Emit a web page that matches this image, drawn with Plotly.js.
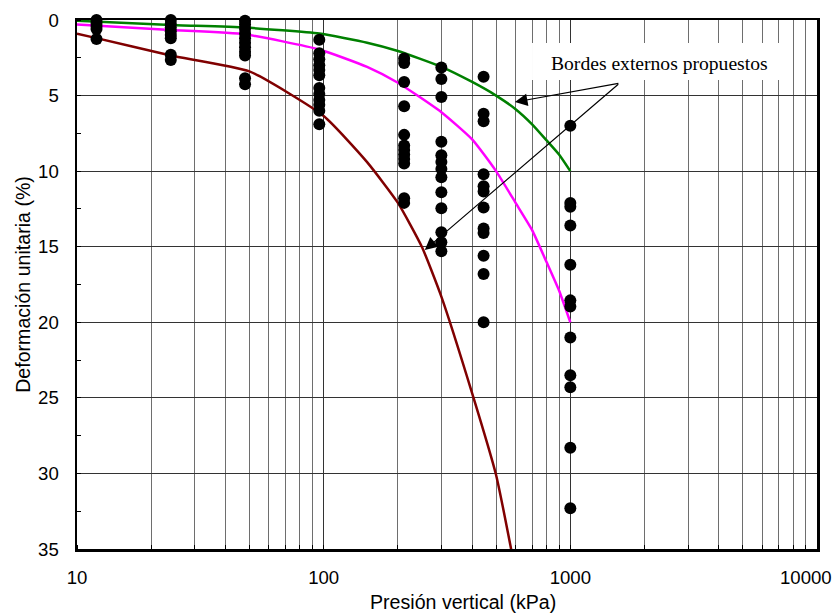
<!DOCTYPE html>
<html>
<head>
<meta charset="utf-8">
<script src="https://cdn.plot.ly/plotly-3.0.1.min.js"></script>
<style>
  html, body { margin: 0; padding: 0; background: #ffffff; }
  #chart { width: 838px; height: 614px; }
</style>
</head>
<body>
<div id="chart"></div>
<script>
// Pressure steps (kPa) at which strain was measured
const pressures = [12, 24, 48, 96, 212, 300, 445, 1000];

// Measured strain (%) at each pressure step
const strainsAt12   = [0.0, 0.2, 0.4, 0.6, 1.25];
const strainsAt24   = [0.0, 0.25, 0.5, 0.75, 1.0, 1.2, 2.3, 2.65];
const strainsAt48   = [0.05, 0.3, 0.6, 0.9, 1.2, 1.5, 1.8, 2.1, 2.35, 3.85, 4.25];
const strainsAt96   = [1.3, 2.2, 2.6, 3.0, 3.3, 3.65, 4.5, 4.9, 5.3, 5.6, 6.0, 6.9];
const strainsAt212  = [2.55, 2.85, 4.1, 5.7, 7.6, 8.3, 8.6, 8.9, 9.2, 9.5, 11.8, 12.1];
const strainsAt300  = [3.15, 3.9, 5.1, 8.05, 8.95, 9.4, 9.85, 10.4, 11.4, 12.45, 14.05, 14.7, 15.3];
const strainsAt445  = [3.75, 6.2, 6.7, 10.2, 11.0, 11.35, 12.4, 13.8, 14.1, 15.6, 16.8, 20.0];
const strainsAt1000 = [7.0, 12.1, 12.35, 13.6, 16.2, 18.55, 18.95, 21.0, 23.5, 24.3, 28.3, 32.3];
const strainColumns = [strainsAt12, strainsAt24, strainsAt48, strainsAt96,
                       strainsAt212, strainsAt300, strainsAt445, strainsAt1000];

// Proposed outer bound (stiff side)
const upperPressure = [10, 24, 48, 96, 150, 200, 300, 400, 500, 600, 700, 800, 900, 1000];
const upperStrain   = [0.05, 0.33, 0.5, 0.9, 1.5, 2.05, 3.1, 4.1, 5.0, 5.9, 6.9, 7.95, 8.9, 10.0];

// Intermediate curve
const middlePressure = [10, 24, 48, 96, 150, 200, 300, 400, 500, 600, 700, 800, 900, 1000];
const middleStrain   = [0.3, 0.66, 0.95, 1.95, 3.1, 4.15, 6.1, 7.9, 10.0, 12.1, 13.9, 16.0, 17.9, 20.0];

// Proposed outer bound (soft side)
const lowerPressure = [10, 12, 24, 50, 100, 150, 200, 250, 300, 400, 500, 580];
const lowerStrain   = [0.9, 1.2, 2.35, 3.4, 6.35, 9.4, 12.1, 15.0, 18.3, 24.7, 30.1, 35.3];

// Axis ticks
const xTickVals = [10, 100, 1000, 10000];
const xTickText = ['10', '100', '1000', '10000'];
const yTickVals = [0, 5, 10, 15, 20, 25, 30, 35];
const yTickText = ['0', '5', '10', '15', '20', '25', '30', '35'];

// Labels
const xTitle = 'Presión vertical (kPa)';
const yTitle = 'Deformación unitaria (%)';
const boundsLabel = 'Bordes externos propuestos';

// Flatten the measurement columns into point lists
const pointX = [];
const pointY = [];
strainColumns.forEach((col, i) => {
  col.forEach(v => { pointX.push(pressures[i]); pointY.push(v); });
});

// The last x label sits on the right edge; it is drawn separately, nudged inward
const lastTick = xTickText.length - 1;
const xTickTextShown = xTickText.map((t, i) => (i === lastTick ? '' : t));

const sans = 'Liberation Sans, Arial, sans-serif';
const serif = 'Liberation Serif, Times New Roman, serif';

const curveLine = (color) => ({ color: color, width: 2.5, shape: 'spline', smoothing: 0.5 });

const traces = [
  {
    x: upperPressure, y: upperStrain, type: 'scatter', mode: 'lines',
    line: curveLine('#008000'), hoverinfo: 'skip'
  },
  {
    x: middlePressure, y: middleStrain, type: 'scatter', mode: 'lines',
    line: curveLine('#ff00ff'), hoverinfo: 'skip'
  },
  {
    x: lowerPressure, y: lowerStrain, type: 'scatter', mode: 'lines',
    line: curveLine('#800000'), hoverinfo: 'skip'
  },
  {
    x: pointX, y: pointY, type: 'scatter', mode: 'markers',
    marker: { color: '#000000', size: 12, line: { width: 0 } },
    cliponaxis: false, hoverinfo: 'skip'
  }
];

const layout = {
  width: 838,
  height: 614,
  margin: { l: 77, r: 21, t: 20, b: 65 },
  paper_bgcolor: '#ffffff',
  plot_bgcolor: '#ffffff',
  showlegend: false,
  font: { family: sans, color: '#000000' },
  xaxis: {
    type: 'log',
    range: [1, 4.00001],
    tickmode: 'array',
    tickvals: xTickVals,
    ticktext: xTickTextShown,
    ticks: '',
    ticklabelstandoff: 10,
    tickfont: { family: sans, size: 18.6, color: '#000' },
    showgrid: true,
    gridcolor: '#333333',
    gridwidth: 1,
    minor: {
      dtick: 'D1',
      showgrid: true,
      gridcolor: '#6e6e6e',
      gridwidth: 1,
      ticks: 'inside',
      ticklen: 4,
      tickcolor: '#000'
    },
    showline: true,
    linecolor: '#000000',
    linewidth: 2.5,
    mirror: true,
    zeroline: false
  },
  yaxis: {
    range: [35, 0],
    tickmode: 'array',
    tickvals: yTickVals,
    ticktext: yTickText,
    ticks: '',
    ticklabelstandoff: 12,
    tickfont: { family: sans, size: 18.6, color: '#000' },
    showgrid: true,
    gridcolor: '#333333',
    gridwidth: 1,
    minor: {
      dtick: 2.5,
      showgrid: false,
      ticks: 'inside',
      ticklen: 4,
      tickcolor: '#000'
    },
    showline: true,
    linecolor: '#000000',
    linewidth: 2.5,
    mirror: true,
    zeroline: false,
    title: {
      text: yTitle,
      font: { family: sans, size: 19.6, color: '#000' },
      standoff: 2
    }
  },
  shapes: [
    {
      // white label box over the grid
      type: 'rect', xref: 'paper', yref: 'paper',
      x0: 0.6149, x1: 0.9608, y0: 0.8866, y1: 0.9565,
      fillcolor: '#ffffff', line: { width: 0 }, layer: 'above'
    }
  ],
  annotations: [
    {
      // right-most x tick label
      xref: 'x', yref: 'paper',
      x: Math.log10(xTickVals[lastTick]), y: -0.0548,
      xanchor: 'right', yanchor: 'middle', xshift: 17,
      text: xTickText[lastTick], showarrow: false,
      font: { family: sans, size: 18.6, color: '#000' }
    },
    {
      xref: 'paper', yref: 'paper',
      x: 0.5216, y: -0.100, xanchor: 'center', yanchor: 'middle',
      text: xTitle, showarrow: false,
      font: { family: sans, size: 19.6, color: '#000' }
    },
    {
      xref: 'paper', yref: 'paper',
      x: 0.7878, y: 0.918, xanchor: 'center', yanchor: 'middle',
      text: boundsLabel, showarrow: false,
      font: { family: serif, size: 19.6, color: '#000' }
    },
    {
      // arrow to the stiff-side bound
      xref: 'x', yref: 'y',
      x: Math.log10(596), y: 5.43,
      ax: 105, ay: -19,
      text: '', showarrow: true,
      arrowhead: 2, arrowsize: 2.1, arrowwidth: 1.2, arrowcolor: '#000',
      standoff: 0
    },
    {
      // arrow to the soft-side bound
      xref: 'x', yref: 'y',
      x: Math.log10(257), y: 15.22,
      ax: 195, ay: -167,
      text: '', showarrow: true,
      arrowhead: 2, arrowsize: 2.1, arrowwidth: 1.2, arrowcolor: '#000',
      standoff: 0
    }
  ]
};

Plotly.newPlot('chart', traces, layout, { displayModeBar: false, staticPlot: true });
</script>
</body>
</html>
